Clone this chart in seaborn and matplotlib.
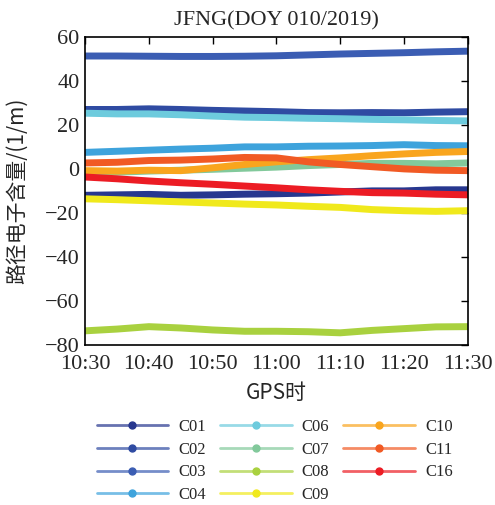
import numpy as np
import pandas as pd
import matplotlib
matplotlib.use("Agg")
import matplotlib.pyplot as plt
from matplotlib.lines import Line2D
from matplotlib.legend_handler import HandlerLine2D
import seaborn as sns

# ---- data (minutes after 10:30) ----
minutes = [0, 5, 10, 15, 20, 25, 30, 35, 40, 45, 50, 55, 60]
tick_pos = [0, 10, 20, 30, 40, 50, 60]
tick_labels = ["10:30", "10:40", "10:50", "11:00", "11:10", "11:20", "11:30"]
sats = ["C01", "C02", "C03", "C04", "C06", "C07", "C08", "C09", "C10", "C11", "C16"]
C01 = [-12.0, -11.8, -11.6, -12.0, -11.8, -11.5, -11.3, -11.0, -10.5, -10.0, -10.0, -9.5, -9.5]
C02 = [27.0, 27.0, 27.3, 27.0, 26.6, 26.3, 26.0, 25.6, 25.5, 25.6, 25.5, 25.8, 26.0]
C03 = [51.3, 51.3, 51.2, 51.1, 51.1, 51.2, 51.4, 51.8, 52.2, 52.5, 52.8, 53.2, 53.5]
C04 = [7.5, 8.0, 8.5, 9.0, 9.4, 10.0, 10.0, 10.3, 10.4, 10.6, 11.0, 10.6, 10.5]
C06 = [25.3, 25.0, 25.0, 24.6, 24.0, 23.5, 23.3, 23.0, 22.8, 22.5, 22.3, 22.0, 21.8]
C07 = [-1.8, -1.5, -1.0, -0.6, -0.2, 0.3, 0.8, 1.5, 2.0, 2.5, 2.5, 2.3, 2.7]
C08 = [-73.6, -72.8, -71.7, -72.3, -73.2, -73.8, -73.8, -74.0, -74.5, -73.4, -72.6, -71.8, -71.7]
C09 = [-13.6, -14.0, -14.5, -15.0, -15.5, -16.0, -16.4, -17.0, -17.5, -18.5, -19.0, -19.3, -19.0]
C10 = [-0.8, -1.0, -0.6, -0.8, 0.5, 2.0, 3.2, 4.2, 5.0, 6.0, 6.8, 7.5, 7.9]
C11 = [2.7, 3.0, 3.8, 4.0, 4.5, 5.2, 5.0, 3.2, 2.0, 1.0, 0.0, -0.6, -0.8]
C16 = [-3.7, -4.5, -5.5, -6.3, -7.0, -7.8, -8.6, -9.5, -10.2, -10.8, -11.0, -11.5, -11.8]
colors = ["#27378f", "#2f4ba2", "#3b5db3", "#3ea3dc", "#6dcbdd", "#82c99b",
          "#a9d13f", "#f0e91c", "#f9a51e", "#f15a24", "#ec1c24"]

series = dict(zip(sats, [C01, C02, C03, C04, C06, C07, C08, C09, C10, C11, C16]))
df = pd.concat([pd.DataFrame({"t": minutes, "v": vals, "sat": s}) for s, vals in series.items()],
               ignore_index=True)

sns.set_style("white")
serif = ["Liberation Serif", "Noto Sans CJK SC", "DejaVu Sans"]
cjk = ["Noto Sans CJK SC", "Liberation Serif", "DejaVu Sans"]
plt.rcParams["font.family"] = serif

fig = plt.figure(figsize=(4.95, 5.05), dpi=100)
ax = fig.add_axes([0.172, 0.317, 0.773, 0.610])
sns.lineplot(data=df, x="t", y="v", hue="sat", hue_order=sats,
             palette=dict(zip(sats, colors)), lw=5, legend=False, ax=ax)

ax.set_xlim(0, 60)
ax.set_ylim(-80, 60)
ax.set_xticks(tick_pos)
ax.set_xticklabels(tick_labels)
ax.set_yticks(range(-80, 61, 20))
ax.tick_params(direction="in", length=5, width=1, top=True, right=True,
               labelsize=16, color="black")
ax.tick_params(axis="x", pad=7)
ax.tick_params(axis="y", pad=4)
for sp in ax.spines.values():
    sp.set_color("black")
    sp.set_linewidth(1.2)
ax.set_xlabel("GPS时", fontsize=15, family=cjk, labelpad=6)
ax.set_ylabel("路径电子含量/(1/m)", fontsize=15, family=cjk, labelpad=12)
ax.set_title("JFNG(DOY 010/2019)", fontsize=16, pad=8)


class MidMarker(HandlerLine2D):
    def create_artists(self, legend, orig_handle, xdescent, ydescent, width, height, fontsize, trans):
        y = height / 2 - ydescent
        line = Line2D([-xdescent, -xdescent + width], [y, y], color=orig_handle.get_color(),
                      lw=2, alpha=0.7, transform=trans)
        dot = Line2D([-xdescent + width / 2], [y], marker="o", markersize=5,
                     color=orig_handle.get_color(), transform=trans, lw=0)
        return [line, dot]


handles = [Line2D([0, 1], [0, 0], color=c, lw=2) for c in colors]
leg = fig.legend(handles, sats, ncol=3, loc="upper center", bbox_to_anchor=(0.555, 0.170),
                 frameon=False, fontsize=12, handlelength=4.3, handletextpad=0.6,
                 columnspacing=0.85, labelspacing=0.4, borderaxespad=0, borderpad=0,
                 handler_map={Line2D: MidMarker()})

fig.savefig("out.png", dpi=100)
